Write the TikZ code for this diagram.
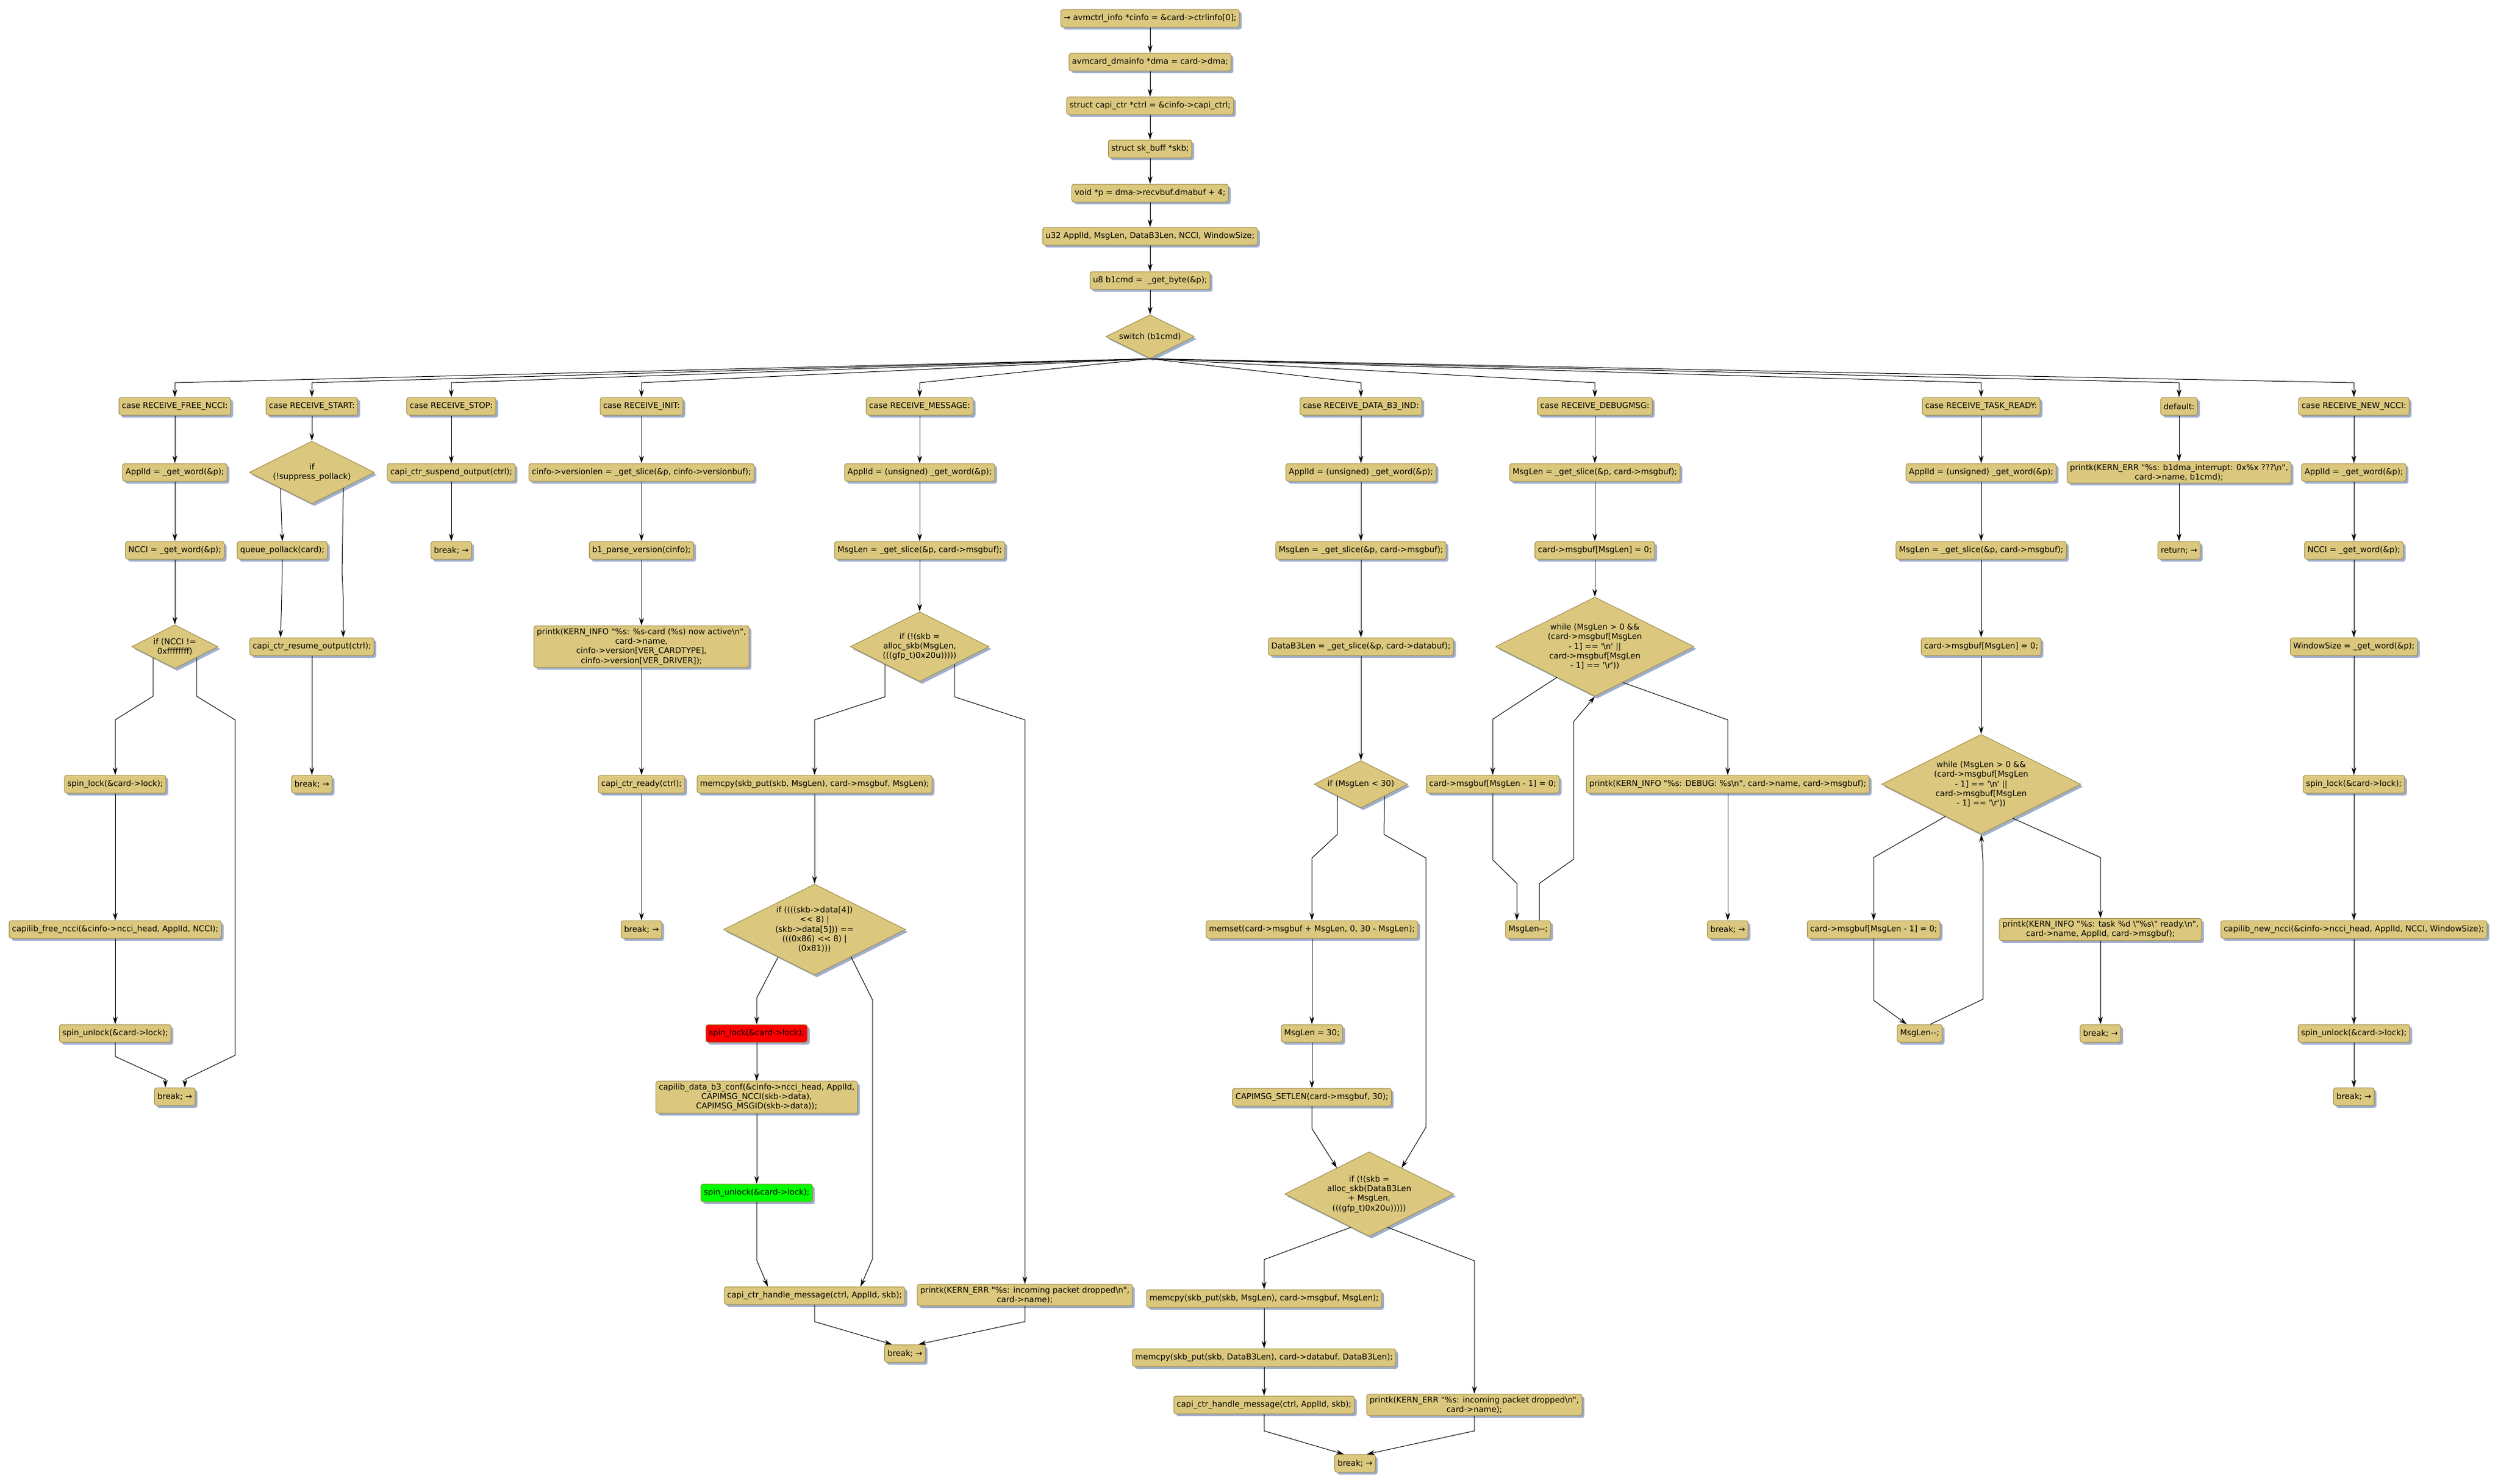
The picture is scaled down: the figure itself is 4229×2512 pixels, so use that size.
\documentclass[tikz,border=0pt]{standalone}
\usepackage{fontspec}
\newfontfamily\flowfont{DejaVu Sans}
\usetikzlibrary{arrows.meta,shapes.geometric,shadows}
\definecolor{boxfill}{RGB}{219,200,126}
\definecolor{boxline}{RGB}{158,140,70}
\definecolor{boxshade}{RGB}{160,174,205}
\tikzset{
	stmt/.style={draw=boxline, fill=boxfill, line width=1pt, rounded corners=4pt,
		inner xsep=5pt, inner ysep=4pt, minimum height=30pt, align=center,
		font=\flowfont\fontsize{13.6}{16.3}\selectfont,
		drop shadow={shadow xshift=4pt, shadow yshift=-4pt, fill=boxshade, opacity=1}},
	cond/.style={diamond, shape aspect=2, draw=boxline, fill=boxfill, line width=1pt,
		inner sep=0pt, align=center, font=\flowfont\fontsize{13.6}{16.3}\selectfont,
		drop shadow={shadow xshift=4pt, shadow yshift=-4pt, fill=boxshade, opacity=1}},
	arr/.style={-{Stealth[length=13pt,width=8pt]}, line width=1pt},
}
\begin{document}
\begin{tikzpicture}[x=1pt,y=-1pt]
	\useasboundingbox (0,0) rectangle (4229,2512);
	% blocco iniziale
	\node[stmt] (info) at (1947,31) {→ avmctrl\_info *cinfo = \&card->ctrlinfo[0];};
	\node[stmt] (dma) at (1947,105) {avmcard\_dmainfo *dma = card->dma;};
	\node[stmt] (ctrl) at (1947,179) {struct capi\_ctr *ctrl = \&cinfo->capi\_ctrl;};
	\node[stmt] (skb) at (1947,252) {struct sk\_buff *skb;};
	\node[stmt] (ptr) at (1947,327) {void *p = dma->recvbuf.dmabuf + 4;};
	\node[stmt] (vars) at (1947,400) {u32 ApplId, MsgLen, DataB3Len, NCCI, WindowSize;};
	\node[stmt] (cmd) at (1947,475) {u8 b1cmd = \ \_get\_byte(\&p);};
	\node[cond, minimum width=150pt, minimum height=74pt] (sw) at (1947,570) {switch (b1cmd)};
	\coordinate (fan) at (0,648);

	% case RECEIVE_FREE_NCCI
	\node[stmt] (fcase) at (296,688) {case RECEIVE\_FREE\_NCCI:};
	\node[stmt] (fappl) at (296,800) {ApplId = \_get\_word(\&p);};
	\node[stmt] (fncci) at (296,932) {NCCI = \_get\_word(\&p);};
	\node[cond, minimum width=146pt, minimum height=74pt] (fif) at (296,1095) {if (NCCI !=\\0xffffffff)};
	\node[stmt] (flock) at (195,1328) {spin\_lock(\&card->lock);};
	\node[stmt] (ffree) at (195,1574) {capilib\_free\_ncci(\&cinfo->ncci\_head, ApplId, NCCI);};
	\node[stmt] (funlock) at (195,1750) {spin\_unlock(\&card->lock);};
	\node[stmt] (fbrk) at (296,1857) {break; →};

	% case RECEIVE_START
	\node[stmt] (scase) at (528,688) {case RECEIVE\_START:};
	\node[cond, minimum width=212pt, minimum height=106pt] (sif) at (528,800) {if\\(!suppress\_pollack)};
	\node[stmt] (spoll) at (478,932) {queue\_pollack(card);};
	\node[stmt] (sresume) at (528,1095) {capi\_ctr\_resume\_output(ctrl);};
	\node[stmt] (sbrk) at (528,1328) {break; →};

	% case RECEIVE_STOP
	\node[stmt] (tcase) at (764,688) {case RECEIVE\_STOP:};
	\node[stmt] (tsusp) at (764,800) {capi\_ctr\_suspend\_output(ctrl);};
	\node[stmt] (tbrk) at (764,932) {break; →};

	% case RECEIVE_INIT
	\node[stmt] (icase) at (1086,688) {case RECEIVE\_INIT:};
	\node[stmt] (ilen) at (1086,800) {cinfo->versionlen = \_get\_slice(\&p, cinfo->versionbuf);};
	\node[stmt] (iparse) at (1086,932) {b1\_parse\_version(cinfo);};
	\node[stmt] (iprint) at (1086,1095) {printk(KERN\_INFO "\%s: \%s-card (\%s) now active\textbackslash n",\\card->name,\\cinfo->version[VER\_CARDTYPE],\\cinfo->version[VER\_DRIVER]);};
	\node[stmt] (iready) at (1086,1328) {capi\_ctr\_ready(ctrl);};
	\node[stmt] (ibrk) at (1086,1574) {break; →};

	% case RECEIVE_MESSAGE
	\node[stmt] (mcase) at (1557,688) {case RECEIVE\_MESSAGE:};
	\node[stmt] (mappl) at (1557,800) {ApplId = (unsigned) \_get\_word(\&p);};
	\node[stmt] (mlen) at (1557,932) {MsgLen = \_get\_slice(\&p, card->msgbuf);};
	\node[cond, minimum width=235pt, minimum height=118pt] (mif) at (1557,1095) {if (!(skb =\\alloc\_skb(MsgLen,\\(((gfp\_t)0x20u)))))};
	\node[stmt] (mcpy) at (1379,1328) {memcpy(skb\_put(skb, MsgLen), card->msgbuf, MsgLen);};
	\node[cond, minimum width=308pt, minimum height=154pt] (mif2) at (1379,1574) {if ((((skb->data[4])\\<< 8) |\\(skb->data[5])) ==\\(((0x86) << 8) |\\(0x81)))};
	\node[stmt, fill=red] (mlock) at (1281,1750) {spin\_lock(\&card->lock);};
	\node[stmt] (mconf) at (1281,1858) {capilib\_data\_b3\_conf(\&cinfo->ncci\_head, ApplId,\\CAPIMSG\_NCCI(skb->data),\\CAPIMSG\_MSGID(skb->data));};
	\node[stmt, fill=green] (munlock) at (1281,2020) {spin\_unlock(\&card->lock);};
	\node[stmt] (mhandle) at (1379,2194) {capi\_ctr\_handle\_message(ctrl, ApplId, skb);};
	\node[stmt] (merr) at (1735,2193) {printk(KERN\_ERR "\%s: incoming packet dropped\textbackslash n",\\card->name);};
	\node[stmt] (mbrk) at (1532,2292) {break; →};

	% case RECEIVE_DATA_B3_IND
	\node[stmt] (dcase) at (2304,688) {case RECEIVE\_DATA\_B3\_IND:};
	\node[stmt] (dappl) at (2304,800) {ApplId = (unsigned) \_get\_word(\&p);};
	\node[stmt] (dlen) at (2304,932) {MsgLen = \_get\_slice(\&p, card->msgbuf);};
	\node[stmt] (ddlen) at (2304,1095) {DataB3Len = \_get\_slice(\&p, card->databuf);};
	\node[cond, minimum width=158pt, minimum height=80pt] (dif) at (2304,1328) {if (MsgLen < 30)};
	\node[stmt] (dset) at (2221,1574) {memset(card->msgbuf + MsgLen, 0, 30 - MsgLen);};
	\node[stmt] (dlen30) at (2221,1750) {MsgLen = 30;};
	\node[stmt] (dsetlen) at (2221,1858) {CAPIMSG\_SETLEN(card->msgbuf, 30);};
	\node[cond, minimum width=286pt, minimum height=143pt] (dif2) at (2318,2022) {if (!(skb =\\alloc\_skb(DataB3Len\\+ MsgLen,\\(((gfp\_t)0x20u)))))};
	\node[stmt] (dcpy1) at (2140,2199) {memcpy(skb\_put(skb, MsgLen), card->msgbuf, MsgLen);};
	\node[stmt] (dcpy2) at (2140,2299) {memcpy(skb\_put(skb, DataB3Len), card->databuf, DataB3Len);};
	\node[stmt] (dhandle) at (2140,2379) {capi\_ctr\_handle\_message(ctrl, ApplId, skb);};
	\node[stmt] (derr) at (2496,2379) {printk(KERN\_ERR "\%s: incoming packet dropped\textbackslash n",\\card->name);};
	\node[stmt] (dbrk) at (2294,2478) {break; →};

	% case RECEIVE_DEBUGMSG
	\node[stmt] (gcase) at (2700,688) {case RECEIVE\_DEBUGMSG:};
	\node[stmt] (glen) at (2700,800) {MsgLen = \_get\_slice(\&p, card->msgbuf);};
	\node[stmt] (gzero) at (2700,932) {card->msgbuf[MsgLen] = 0;};
	\node[cond, minimum width=336pt, minimum height=168pt] (gwhile) at (2700,1095) {while (MsgLen > 0 \&\&\\(card->msgbuf[MsgLen\\- 1] == '\textbackslash n' ||\\card->msgbuf[MsgLen\\- 1] == '\textbackslash r'))};
	\node[stmt] (gclr) at (2527,1328) {card->msgbuf[MsgLen - 1] = 0;};
	\node[stmt] (gprint) at (2925,1328) {printk(KERN\_INFO "\%s: DEBUG: \%s\textbackslash n", card->name, card->msgbuf);};
	\node[stmt] (gdec) at (2587,1574) {MsgLen--;};
	\node[stmt] (gbrk) at (2925,1574) {break; →};

	% case RECEIVE_TASK_READY
	\node[stmt] (rcase) at (3354,688) {case RECEIVE\_TASK\_READY:};
	\node[stmt] (rappl) at (3354,800) {ApplId = (unsigned) \_get\_word(\&p);};
	\node[stmt] (rlen) at (3354,932) {MsgLen = \_get\_slice(\&p, card->msgbuf);};
	\node[stmt] (rzero) at (3354,1095) {card->msgbuf[MsgLen] = 0;};
	\node[cond, minimum width=337pt, minimum height=169pt] (rwhile) at (3354,1328) {while (MsgLen > 0 \&\&\\(card->msgbuf[MsgLen\\- 1] == '\textbackslash n' ||\\card->msgbuf[MsgLen\\- 1] == '\textbackslash r'))};
	\node[stmt] (rclr) at (3172,1574) {card->msgbuf[MsgLen - 1] = 0;};
	\node[stmt] (rprint) at (3556,1574) {printk(KERN\_INFO "\%s: task \%d \textbackslash"\%s\textbackslash" ready.\textbackslash n",\\card->name, ApplId, card->msgbuf);};
	\node[stmt] (rdec) at (3250,1750) {MsgLen--;};
	\node[stmt] (rbrk) at (3556,1750) {break; →};

	% default
	\node[stmt] (xcase) at (3689,688) {default:};
	\node[stmt] (xprint) at (3689,800) {printk(KERN\_ERR "\%s: b1dma\_interrupt: 0x\%x ???\textbackslash n",\\card->name, b1cmd);};
	\node[stmt] (xret) at (3689,932) {return; →};

	% case RECEIVE_NEW_NCCI
	\node[stmt] (ncase) at (3985,688) {case RECEIVE\_NEW\_NCCI:};
	\node[stmt] (nappl) at (3985,800) {ApplId = \_get\_word(\&p);};
	\node[stmt] (nncci) at (3985,932) {NCCI = \_get\_word(\&p);};
	\node[stmt] (nwin) at (3985,1095) {WindowSize = \_get\_word(\&p);};
	\node[stmt] (nlock) at (3985,1328) {spin\_lock(\&card->lock);};
	\node[stmt] (nnew) at (3985,1574) {capilib\_new\_ncci(\&cinfo->ncci\_head, ApplId, NCCI, WindowSize);};
	\node[stmt] (nunlock) at (3985,1750) {spin\_unlock(\&card->lock);};
	\node[stmt] (nbrk) at (3985,1857) {break; →};

	% frecce blocco iniziale
	\draw[arr] (info.south) -- (dma.north);
	\draw[arr] (dma.south) -- (ctrl.north);
	\draw[arr] (ctrl.south) -- (skb.north);
	\draw[arr] (skb.south) -- (ptr.north);
	\draw[arr] (ptr.south) -- (vars.north);
	\draw[arr] (vars.south) -- (cmd.north);
	\draw[arr] (cmd.south) -- (sw.north);

	% switch -> case
	\draw[arr] (sw.south) -- (fcase.north |- fan) -- (fcase.north);
	\draw[arr] (sw.south) -- (scase.north |- fan) -- (scase.north);
	\draw[arr] (sw.south) -- (tcase.north |- fan) -- (tcase.north);
	\draw[arr] (sw.south) -- (icase.north |- fan) -- (icase.north);
	\draw[arr] (sw.south) -- (mcase.north |- fan) -- (mcase.north);
	\draw[arr] (sw.south) -- (dcase.north |- fan) -- (dcase.north);
	\draw[arr] (sw.south) -- (gcase.north |- fan) -- (gcase.north);
	\draw[arr] (sw.south) -- (rcase.north |- fan) -- (rcase.north);
	\draw[arr] (sw.south) -- (xcase.north |- fan) -- (xcase.north);
	\draw[arr] (sw.south) -- (ncase.north |- fan) -- (ncase.north);

	% FREE_NCCI
	\draw[arr] (fcase.south) -- (fappl.north);
	\draw[arr] (fappl.south) -- (fncci.north);
	\draw[arr] (fncci.south) -- (fif.north);
	\draw[arr] (fif.south west) -- (259,1179) -- (195,1219) -- (flock.north);
	\draw[arr] (flock.south) -- (ffree.north);
	\draw[arr] (ffree.south) -- (funlock.north);
	\draw[arr] (funlock.south) -- (195,1789) -- (280,1828) -- ([xshift=-16pt]fbrk.north);
	\draw[arr] (fif.south east) -- (333,1179) -- (398,1219) -- (398,1787) -- (313,1828) -- ([xshift=17pt]fbrk.north);

	% START
	\draw[arr] (scase.south) -- (sif.north);
	\draw[arr] (sif.south west) -- (spoll.north);
	\draw[arr] (spoll.south) -- (477,1007) -- ([xshift=-53pt]sresume.north);
	\draw[arr] (sif.south east) -- (579,970) -- (581,1009) -- ([xshift=53pt]sresume.north);
	\draw[arr] (sresume.south) -- (sbrk.north);

	% STOP
	\draw[arr] (tcase.south) -- (tsusp.north);
	\draw[arr] (tsusp.south) -- (tbrk.north);

	% INIT
	\draw[arr] (icase.south) -- (ilen.north);
	\draw[arr] (ilen.south) -- (iparse.north);
	\draw[arr] (iparse.south) -- (iprint.north);
	\draw[arr] (iprint.south) -- (iready.north);
	\draw[arr] (iready.south) -- (ibrk.north);

	% MESSAGE
	\draw[arr] (mcase.south) -- (mappl.north);
	\draw[arr] (mappl.south) -- (mlen.north);
	\draw[arr] (mlen.south) -- (mif.north);
	\draw[arr] (mif.south west) -- (1498,1180) -- (1379,1219) -- (mcpy.north);
	\draw[arr] (mif.south east) -- (1616,1180) -- (1735,1219) -- (merr.north);
	\draw[arr] (mcpy.south) -- (mif2.north);
	\draw[arr] (mif2.217) -- (1281,1690) -- (mlock.north);
	\draw[arr] (mif2.323) -- (1477,1693) -- (1477,2132) -- ([xshift=78pt]mhandle.north);
	\draw[arr] (mlock.south) -- (mconf.north);
	\draw[arr] (mconf.south) -- (munlock.north);
	\draw[arr] (munlock.south) -- (1281,2134) -- ([xshift=-79pt]mhandle.north);
	\draw[arr] (mhandle.south) -- (1379,2238) -- ([xshift=-22pt]mbrk.north);
	\draw[arr] (merr.south) -- (1735,2238) -- ([xshift=23pt]mbrk.north);

	% DATA_B3_IND
	\draw[arr] (dcase.south) -- (dappl.north);
	\draw[arr] (dappl.south) -- (dlen.north);
	\draw[arr] (dlen.south) -- (ddlen.north);
	\draw[arr] (ddlen.south) -- (dif.north);
	\draw[arr] (dif.south west) -- (2264,1413) -- (2221,1453) -- (dset.north);
	\draw[arr] (dif.south east) -- (2343,1413) -- (2414,1453) -- (2414,1909) -- (dif2.39);
	\draw[arr] (dset.south) -- (dlen30.north);
	\draw[arr] (dlen30.south) -- (dsetlen.north);
	\draw[arr] (dsetlen.south) -- (2221,1911) -- (dif2.141);
	\draw[arr] (dif2.241) -- (2140,2133) -- (dcpy1.north);
	\draw[arr] (dif2.299) -- (2496,2135) -- (derr.north);
	\draw[arr] (dcpy1.south) -- (dcpy2.north);
	\draw[arr] (dcpy2.south) -- (dhandle.north);
	\draw[arr] (dhandle.south) -- (2140,2423) -- ([xshift=-19pt]dbrk.north);
	\draw[arr] (derr.south) -- (2496,2423) -- ([xshift=20pt]dbrk.north);

	% DEBUGMSG
	\draw[arr] (gcase.south) -- (glen.north);
	\draw[arr] (glen.south) -- (gzero.north);
	\draw[arr] (gzero.south) -- (gwhile.north);
	\draw[arr] (gwhile.219) -- (2527,1218) -- (gclr.north);
	\draw[arr] (gwhile.308) -- (2925,1219) -- (gprint.north);
	\draw[arr] (gclr.south) -- (2527,1456) -- (2568,1496) -- ([xshift=-19pt]gdec.north);
	\draw[arr] ([xshift=19pt]gdec.north) -- (2606,1496) -- (2664,1455) -- (2664,1222) -- (gwhile.south);
	\draw[arr] (gprint.south) -- (gbrk.north);

	% TASK_READY
	\draw[arr] (rcase.south) -- (rappl.north);
	\draw[arr] (rappl.south) -- (rlen.north);
	\draw[arr] (rlen.south) -- (rzero.north);
	\draw[arr] (rzero.south) -- (rwhile.north);
	\draw[arr] (rwhile.222) -- (3172,1452) -- (rclr.north);
	\draw[arr] (rwhile.313) -- (3556,1452) -- (rprint.north);
	\draw[arr] (rclr.south) -- (3172,1694) -- ([xshift=-22pt]rdec.north);
	\draw[arr] ([xshift=18pt]rdec.north) -- (3357,1692) -- (3357,1457) -- (rwhile.south);
	\draw[arr] (rprint.south) -- (rbrk.north);

	% default
	\draw[arr] (xcase.south) -- (xprint.north);
	\draw[arr] (xprint.south) -- (xret.north);

	% NEW_NCCI
	\draw[arr] (ncase.south) -- (nappl.north);
	\draw[arr] (nappl.south) -- (nncci.north);
	\draw[arr] (nncci.south) -- (nwin.north);
	\draw[arr] (nwin.south) -- (nlock.north);
	\draw[arr] (nlock.south) -- (nnew.north);
	\draw[arr] (nnew.south) -- (nunlock.north);
	\draw[arr] (nunlock.south) -- (nbrk.north);
\end{tikzpicture}
\end{document}
